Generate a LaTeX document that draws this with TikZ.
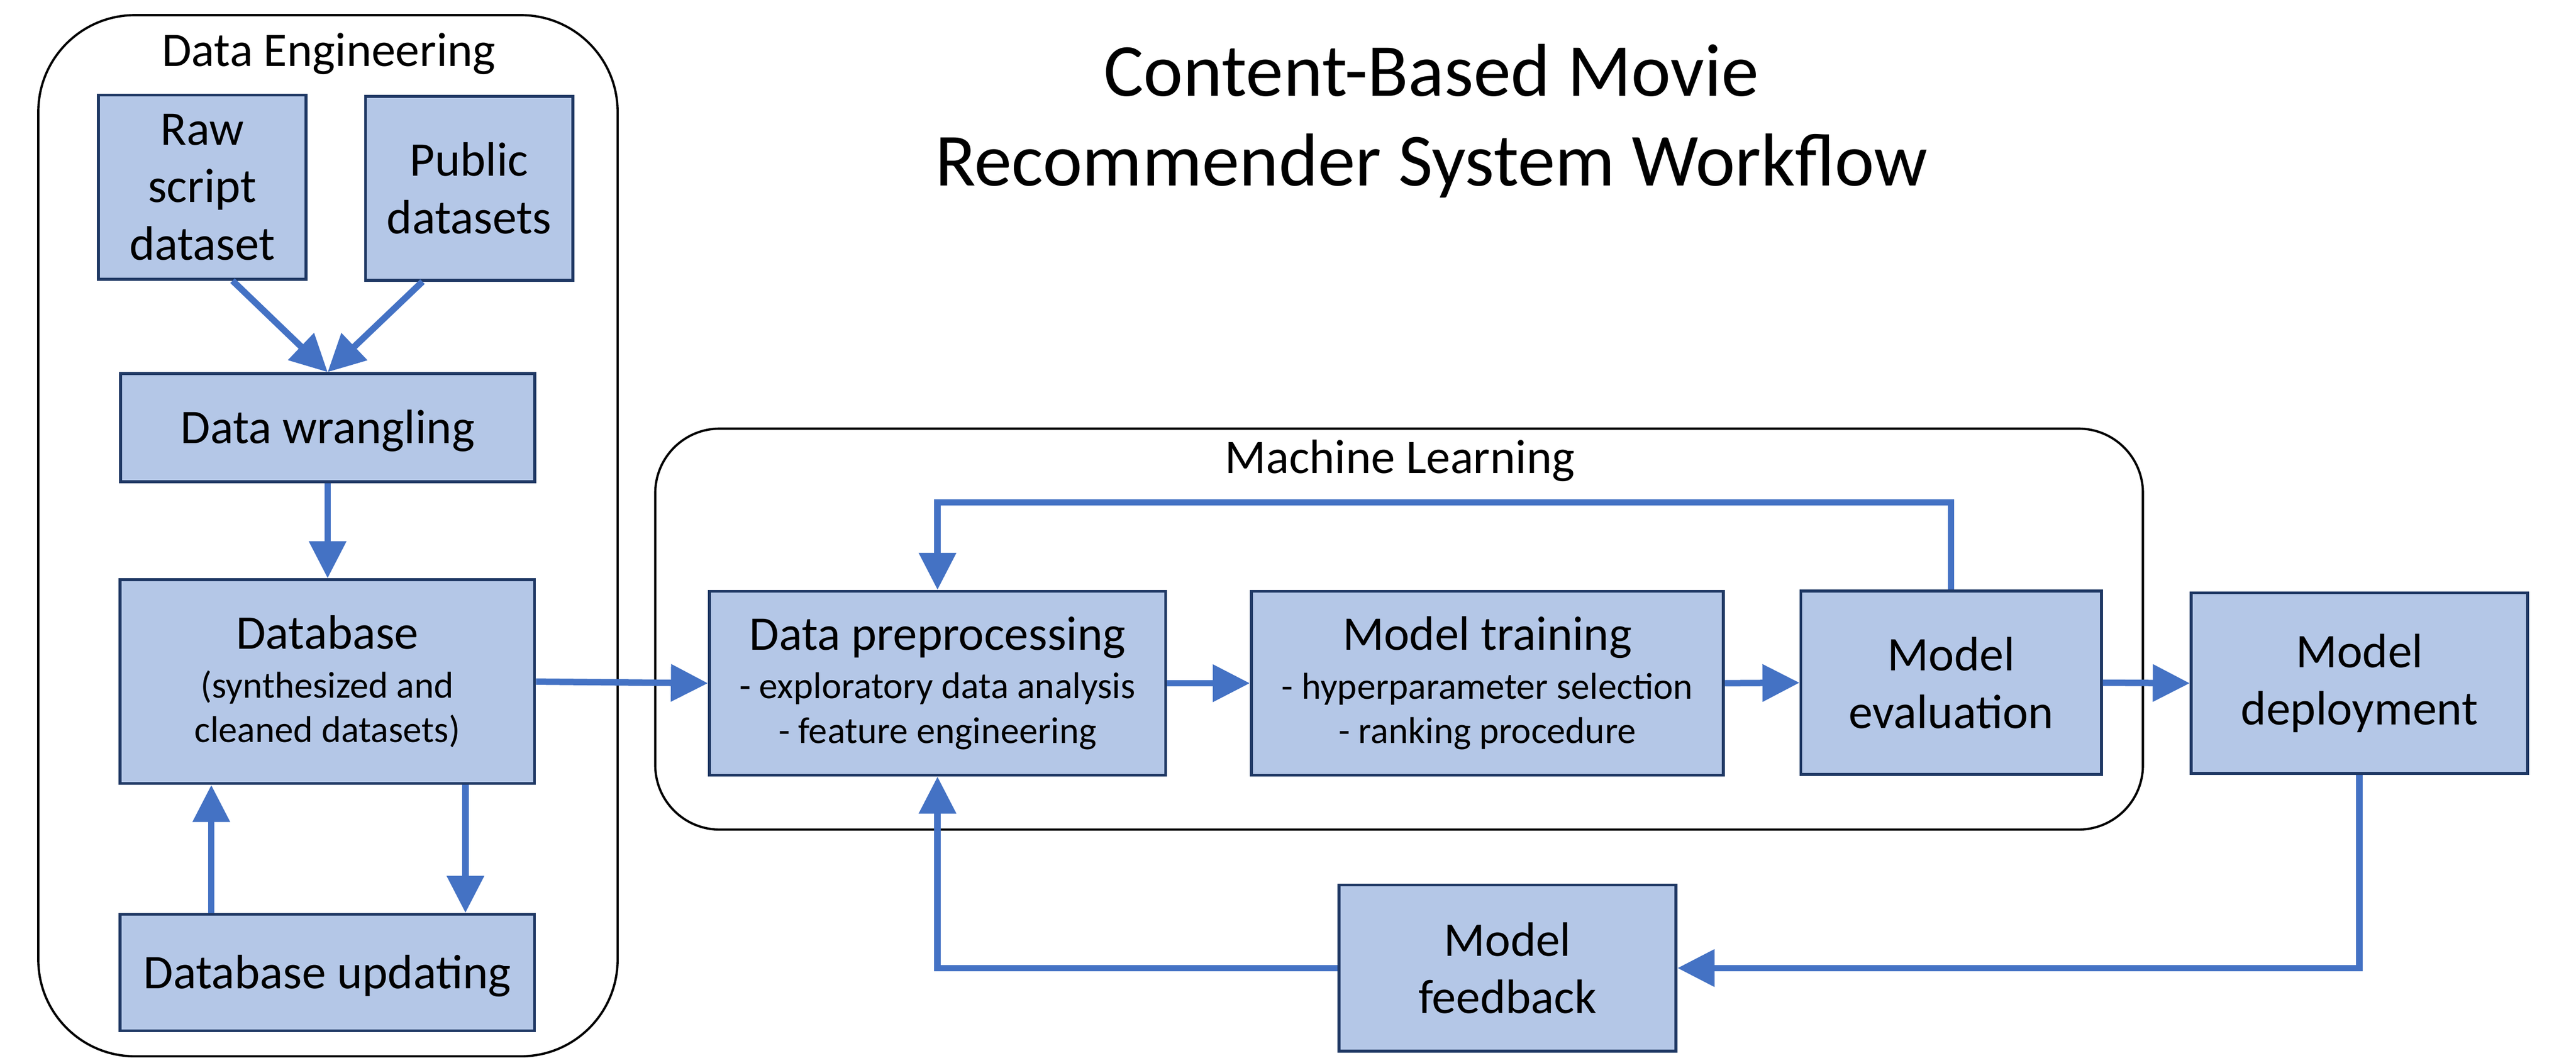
\documentclass[tikz,border=0pt]{standalone}
\usepackage{fontspec}
\setmainfont{Carlito}
\usetikzlibrary{arrows.meta,calc}
\definecolor{boxfill}{HTML}{B4C7E7}
\definecolor{boxline}{HTML}{1F3864}
\definecolor{arrowblue}{HTML}{4472C4}
\newcommand\mainfs{\fontsize{42.7pt}{50.9pt}\selectfont}
\newcommand\subfs{\fontsize{33pt}{41.5pt}\selectfont}
\newcommand\labfs{\fontsize{42.6pt}{50pt}\selectfont}
\newcommand\titlefs{\fontsize{66.2pt}{79.4pt}\selectfont}
\tikzset{
  box/.style={draw=boxline, line width=0.9mm, fill=boxfill, align=center, inner sep=0pt, font=\mainfs},
  oneline/.style={text height=1.2cm, text depth=0.22cm},
  container/.style={draw=black, line width=0.7mm, inner sep=0pt},
  flow/.style={draw=arrowblue, line width=2mm, line join=miter, -{Triangle[length=11.5mm,width=11.2mm]}},
}
\begin{document}
\begin{tikzpicture}
\useasboundingbox[fill=white] (0,0) rectangle (80,-33);
% containers
\node[container, rounded corners=3cm, minimum width=17.99cm, minimum height=32.33cm] (de) at (10.185,-16.635) {};
\node[container, rounded corners=2cm, minimum width=46.2cm, minimum height=12.45cm] (ml) at (43.45,-19.535) {};
\node[font=\labfs, anchor=base, inner sep=0pt] (delabel) at (10.21,-2.06) {Data Engineering};
\node[font=\labfs, anchor=base, inner sep=0pt] (mllabel) at (43.47,-14.70) {Machine Learning};
% title
\node[font=\titlefs, align=center, inner sep=0pt] (title) at (44.45,-3.76) {Content-Based Movie\\Recommender System Workflow};
% boxes
\node[box, minimum width=6.44cm, minimum height=5.72cm] (raw) at (6.28,-5.81) {Raw\\script\\dataset};
\node[box, minimum width=6.44cm, minimum height=5.71cm] (pub) at (14.57,-5.845) {Public\\datasets};
\node[box, oneline, minimum width=12.87cm, minimum height=3.36cm] (wrang) at (10.175,-13.28) {Data wrangling};
\node[box, minimum width=12.87cm, minimum height=6.33cm] (db) at (10.165,-21.165) {Database\\[-8pt]\subfs (synthesized and\\[-11.4pt]\subfs cleaned datasets)};
\node[box, oneline, minimum width=12.87cm, minimum height=3.62cm] (dbu) at (10.165,-30.20) {Database updating};
\node[box, minimum width=14.17cm, minimum height=5.71cm] (dp) at (29.115,-21.215) {Data preprocessing\\[-8pt]\subfs - exploratory data analysis\\[-11.4pt]\subfs - feature engineering};
\node[box, minimum width=14.66cm, minimum height=5.71cm] (mt) at (46.19,-21.215) {Model training\\[-8pt]\subfs - hyperparameter selection\\[-11.4pt]\subfs - ranking procedure};
\node[box, minimum width=9.33cm, minimum height=5.69cm] (me) at (60.595,-21.2) {Model\\evaluation};
\node[box, minimum width=10.45cm, minimum height=5.61cm] (md) at (73.275,-21.215) {Model\\deployment};
\node[box, minimum width=10.47cm, minimum height=5.16cm] (fb) at (46.815,-30.06) {Model\\feedback};
% connectors
\draw[flow] ($(raw.south west)!0.644!(raw.south east)$) -- (wrang.north);
\draw[flow] ($(pub.south west)!0.278!(pub.south east)$) -- (wrang.north);
\draw[flow] (wrang.south) -- (wrang.south |- db.north);
\draw[flow] (db.east) -- (dp.west);
\coordinate (dbdown) at ($(db.south west)!0.831!(db.south east)$);
\draw[flow] (dbdown) -- (dbdown |- dbu.north);
\coordinate (dbup) at ($(dbu.north west)!0.222!(dbu.north east)$);
\draw[flow] (dbup) -- (dbup |- db.south);
\draw[flow] (dp.east) -- (mt.west);
\draw[flow] (mt.east) -- (me.west);
\draw[flow] (me.east) -- (md.west);
\draw[flow] (me.north) -- ++(0,2.71) -| (dp.north);
\draw[flow] (md.south) |- (fb.east);
\draw[flow] (fb.west) -| (dp.south);
\end{tikzpicture}
\end{document}
